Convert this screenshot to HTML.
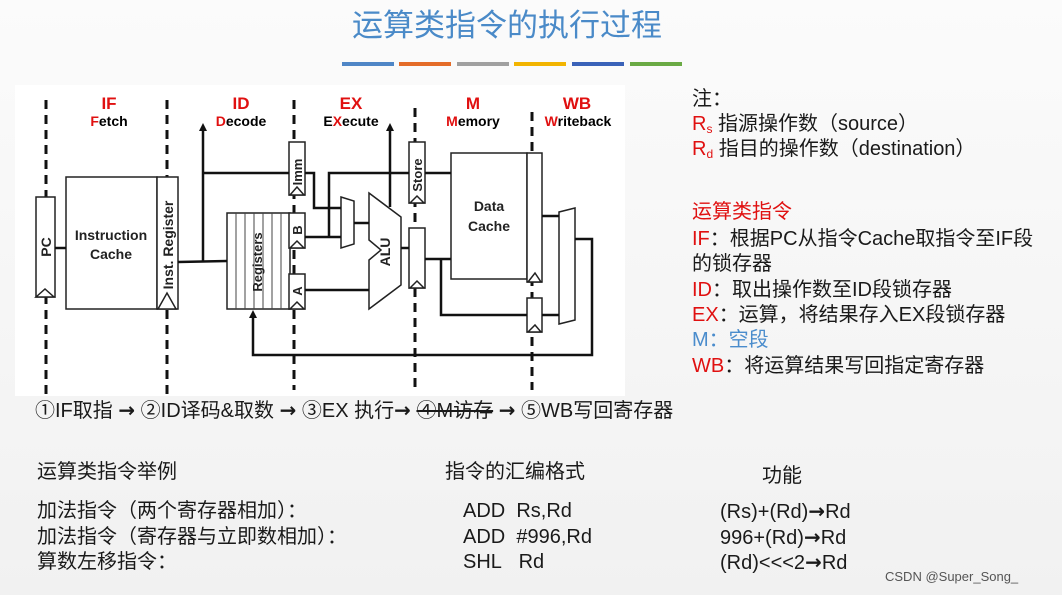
<!DOCTYPE html>
<html><head><meta charset="utf-8"><style>
body{margin:0;width:1062px;height:595px;overflow:hidden;background:linear-gradient(#fbfbfb,#f1f1f1);font-family:"Liberation Sans","Noto Sans CJK SC",sans-serif;position:relative;color:#1a1a1a}
.t{position:absolute;white-space:nowrap;font-size:20px;line-height:24px}
.r{color:#e01010}.b{color:#4a8ccc}
.ar{font-family:"DejaVu Sans",sans-serif;font-weight:bold}
sub{font-size:12px;vertical-align:-3px}
</style></head><body>
<div class="t" style="left:352px;top:8px;font-size:31px;line-height:36px;color:#4a8ac8">运算类指令的执行过程</div>
<div style="position:absolute;top:62px;left:342px;width:52px;height:4px;background:#4f86c6"></div>
<div style="position:absolute;top:62px;left:399px;width:52px;height:4px;background:#e46c28"></div>
<div style="position:absolute;top:62px;left:457px;width:52px;height:4px;background:#a0a0a0"></div>
<div style="position:absolute;top:62px;left:514px;width:52px;height:4px;background:#f2b400"></div>
<div style="position:absolute;top:62px;left:572px;width:52px;height:4px;background:#3a62b8"></div>
<div style="position:absolute;top:62px;left:630px;width:52px;height:4px;background:#6aaa44"></div>
<div style="position:absolute;left:15px;top:85px;width:610px;height:311px;background:#fff"></div>
<svg style="position:absolute;left:0;top:0" width="1062" height="595" font-family="Liberation Sans,sans-serif">
<g stroke="#111" stroke-width="3" stroke-dasharray="9,6" fill="none">
<line x1="46" y1="100" x2="46" y2="395"/><line x1="167" y1="100" x2="167" y2="395"/>
<line x1="294" y1="100" x2="294" y2="390"/><line x1="415" y1="108" x2="415" y2="390"/>
<line x1="532" y1="112" x2="532" y2="390"/></g>
<g font-weight="bold" text-anchor="middle">
<text x="109" y="109" font-size="17" fill="#e01010">IF</text><text x="109" y="126" font-size="14"><tspan fill="#e01010">F</tspan>etch</text>
<text x="241" y="109" font-size="17" fill="#e01010">ID</text><text x="241" y="126" font-size="14"><tspan fill="#e01010">D</tspan>ecode</text>
<text x="351" y="109" font-size="17" fill="#e01010">EX</text><text x="351" y="126" font-size="14">E<tspan fill="#e01010">X</tspan>ecute</text>
<text x="473" y="109" font-size="17" fill="#e01010">M</text><text x="473" y="126" font-size="14"><tspan fill="#e01010">M</tspan>emory</text>
<text x="577" y="109" font-size="17" fill="#e01010">WB</text><text x="578" y="126" font-size="14"><tspan fill="#e01010">W</tspan>riteback</text></g>
<g stroke="#222" stroke-width="1.5" fill="#fff">
<rect x="36" y="197" width="19" height="100"/><rect x="66" y="177" width="91" height="132"/><rect x="157" y="177" width="21" height="132"/>
<rect x="227" y="213" width="63" height="96"/><rect x="289" y="213" width="16" height="35"/><rect x="289" y="274" width="16" height="35"/>
<rect x="289" y="142" width="16" height="53"/><rect x="409" y="142" width="16" height="61"/><rect x="409" y="228" width="16" height="60"/>
<rect x="451" y="153" width="76" height="126"/><rect x="527" y="153" width="15" height="129"/><rect x="527" y="298" width="15" height="34"/>
<polygon points="341,197 354,201 354,244 341,248"/><polygon points="559,212 575,208 575,320 559,324"/>
<polygon points="369,193 401,217 401,285 369,309 369,260 381,250 369,240"/>
<polygon points="36,297 45,289 54,297" /><polygon points="158,309 167,293 176,309"/>
<polygon points="290,195 297,187 304,195"/><polygon points="290,248 297,241 304,248"/><polygon points="290,309 297,302 304,309"/>
<polygon points="410,203 417,196 424,203"/><polygon points="410,288 417,281 424,288"/><polygon points="528,282 535,273 541,282"/><polygon points="528,332 535,325 541,332"/>
</g>
<g stroke="#444" stroke-width="1"><line x1="236" y1="213" x2="236" y2="309"/><line x1="245" y1="213" x2="245" y2="309"/><line x1="254" y1="213" x2="254" y2="309"/><line x1="263" y1="213" x2="263" y2="309"/><line x1="272" y1="213" x2="272" y2="309"/><line x1="281" y1="213" x2="281" y2="309"/></g>
<g stroke="#111" stroke-width="2.5" fill="none">
<line x1="55" y1="248" x2="66" y2="248"/><polyline points="178,262 227,261"/><line x1="203" y1="262" x2="203" y2="130"/>
<polyline points="203,173 289,173"/><polyline points="305,173 314,173 314,208 341,208"/>
<polyline points="305,237 341,237"/><polyline points="329,237 329,173 409,173"/><line x1="425" y1="173" x2="451" y2="173"/>
<line x1="354" y1="223" x2="369" y2="223"/><line x1="305" y1="290" x2="369" y2="290"/>
<line x1="390" y1="207" x2="390" y2="130"/><line x1="401" y1="248" x2="409" y2="248"/>
<line x1="425" y1="259" x2="451" y2="259"/><polyline points="441,259 441,315 527,315"/>
<line x1="542" y1="216" x2="559" y2="216"/><line x1="542" y1="315" x2="559" y2="315"/>
<polyline points="575,239 592,239 592,355 253,355 253,318"/></g>
<g fill="#111"><polygon points="199,131 207,131 203,123"/><polygon points="386,131 394,131 390,123"/><polygon points="249,318 257,318 253,310"/></g>
<g font-weight="bold" font-size="14" fill="#222">
<text x="111" y="240" text-anchor="middle">Instruction</text><text x="111" y="259" text-anchor="middle">Cache</text>
<text x="489" y="211" text-anchor="middle">Data</text><text x="489" y="231" text-anchor="middle">Cache</text>
<text transform="translate(51,247) rotate(-90)" text-anchor="middle">PC</text>
<text transform="translate(173,245) rotate(-90)" text-anchor="middle">Inst. Register</text>
<text transform="translate(262,262) rotate(-90)" text-anchor="middle" font-size="13">Registers</text>
<text transform="translate(302,230) rotate(-90)" text-anchor="middle" font-size="13">B</text>
<text transform="translate(302,291) rotate(-90)" text-anchor="middle" font-size="13">A</text>
<text transform="translate(302,172) rotate(-90)" text-anchor="middle" font-size="13">Imm</text>
<text transform="translate(422,175) rotate(-90)" text-anchor="middle" font-size="13">Store</text>
<text transform="translate(390,252) rotate(-90)" text-anchor="middle" font-size="14">ALU</text></g>
</svg>
<div class="t" style="left:692px;top:87px">注：</div>
<div class="t" style="left:692px;top:112px"><span class="r">R<sub>s</sub></span> 指源操作数（source）</div>
<div class="t" style="left:692px;top:137px"><span class="r">R<sub>d</sub></span> 指目的操作数（destination）</div>
<div class="t r" style="left:692px;top:200px">运算类指令</div>
<div class="t" style="left:692px;top:227px"><span class="r">IF</span>：根据PC从指令Cache取指令至IF段</div>
<div class="t" style="left:692px;top:252px">的锁存器</div>
<div class="t" style="left:692px;top:278px"><span class="r">ID</span>：取出操作数至ID段锁存器</div>
<div class="t" style="left:692px;top:303px"><span class="r">EX</span>：运算，将结果存入EX段锁存器</div>
<div class="t b" style="left:692px;top:328px">M：空段</div>
<div class="t" style="left:692px;top:354px"><span class="r">WB</span>：将运算结果写回指定寄存器</div>
<div class="t" style="left:35px;top:398px">①IF取指 <span class="ar">→</span> ②ID译码&amp;取数 <span class="ar">→</span> ③EX 执行<span class="ar">→</span> <s>④M访存</s> <span class="ar">→</span> ⑤WB写回寄存器</div>
<div class="t" style="left:37px;top:460px">运算类指令举例</div>
<div class="t" style="left:445px;top:460px">指令的汇编格式</div>
<div class="t" style="left:762px;top:464px">功能</div>
<div class="t" style="left:37px;top:499px">加法指令（两个寄存器相加）：</div>
<div class="t" style="left:37px;top:525px">加法指令（寄存器与立即数相加）：</div>
<div class="t" style="left:37px;top:550px">算数左移指令：</div>
<div class="t" style="left:463px;top:499px">ADD&nbsp; Rs,Rd</div>
<div class="t" style="left:463px;top:525px">ADD&nbsp; #996,Rd</div>
<div class="t" style="left:463px;top:550px">SHL&nbsp;&nbsp; Rd</div>
<div class="t" style="left:720px;top:499px">(Rs)+(Rd)<span class="ar">→</span>Rd</div>
<div class="t" style="left:720px;top:525px">996+(Rd)<span class="ar">→</span>Rd</div>
<div class="t" style="left:720px;top:550px">(Rd)&lt;&lt;&lt;2<span class="ar">→</span>Rd</div>
<div class="t" style="left:885px;top:568px;font-size:13px;line-height:18px;color:#555">CSDN @Super_Song_</div>
</body></html>
